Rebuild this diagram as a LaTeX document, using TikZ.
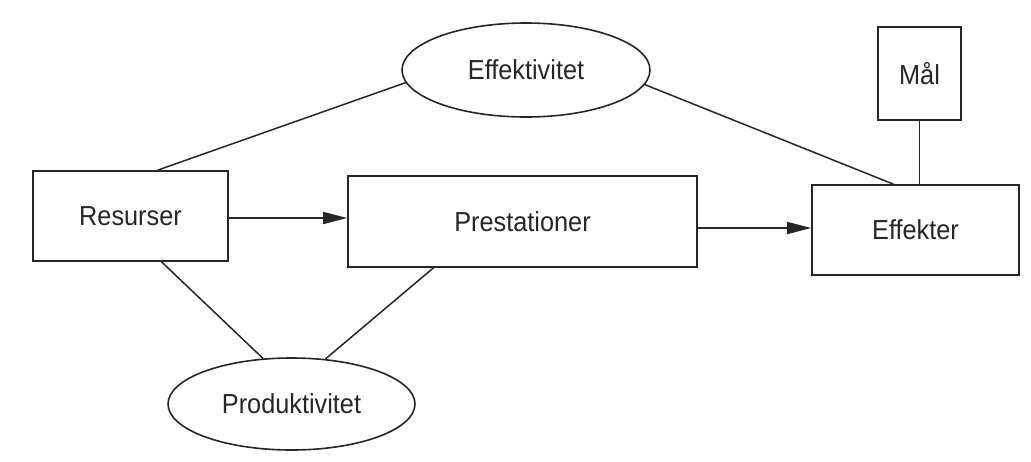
\documentclass[tikz,border=0pt]{standalone}
\usepackage{fontspec}
\setmainfont[FakeStretch=0.92]{Liberation Sans}
\usetikzlibrary{shapes.geometric,arrows.meta,calc}
\begin{document}
\begin{tikzpicture}[x=1pt,y=-1pt,
  ink/.style={draw=black!85, line width=1.6pt},
  boxnode/.style={ink, rectangle, inner sep=0pt, font=\fontsize{27.5}{32}\selectfont, text=black!85},
  ellnode/.style={ink, ellipse, inner sep=0pt, font=\fontsize{27.5}{32}\selectfont, text=black!85},
  conn/.style={ink, line width=1.5pt},
  arr/.style={conn, -{Triangle[length=24pt,width=12pt]}}]
\fill[white] (0,0) rectangle (1031,461);
\useasboundingbox (0,0) rectangle (1031,461);
\node[boxnode, minimum width=195pt, minimum height=90pt] (res) at (130.5,216) {Resurser};
\node[boxnode, minimum width=349pt, minimum height=91pt] (pre) at (522.5,221.5) {Prestationer};
\node[boxnode, minimum width=207pt, minimum height=90pt] (eff) at (915.5,230) {Effekter};
\node[boxnode, minimum width=83pt, minimum height=93pt] (mal) at (919.5,73.5) {Mål};
\node[ellnode, minimum width=248pt, minimum height=94pt] (eft) at (526,70) {Effektivitet};
\node[ellnode, minimum width=247pt, minimum height=92pt] (prod) at (291.5,404) {Produktivitet};
\draw[arr] (res.east |- 0,218) -- (pre.west |- 0,218);
\draw[arr] (pre.east |- 0,228) -- (eff.west |- 0,228);
\draw[conn] (eft.186) -- ($(res.north)+(27,0)$);
\draw[conn] (eft.353) -- ($(eff.north)+(-22,0)$);
\draw[conn] (mal.south) -- (mal.south |- eff.north);
\draw[conn] ($(res.south)+(31,0)$) -- (prod.122);
\draw[conn] ($(pre.south)+(-89,0)$) -- (prod.53);
\end{tikzpicture}
\end{document}
